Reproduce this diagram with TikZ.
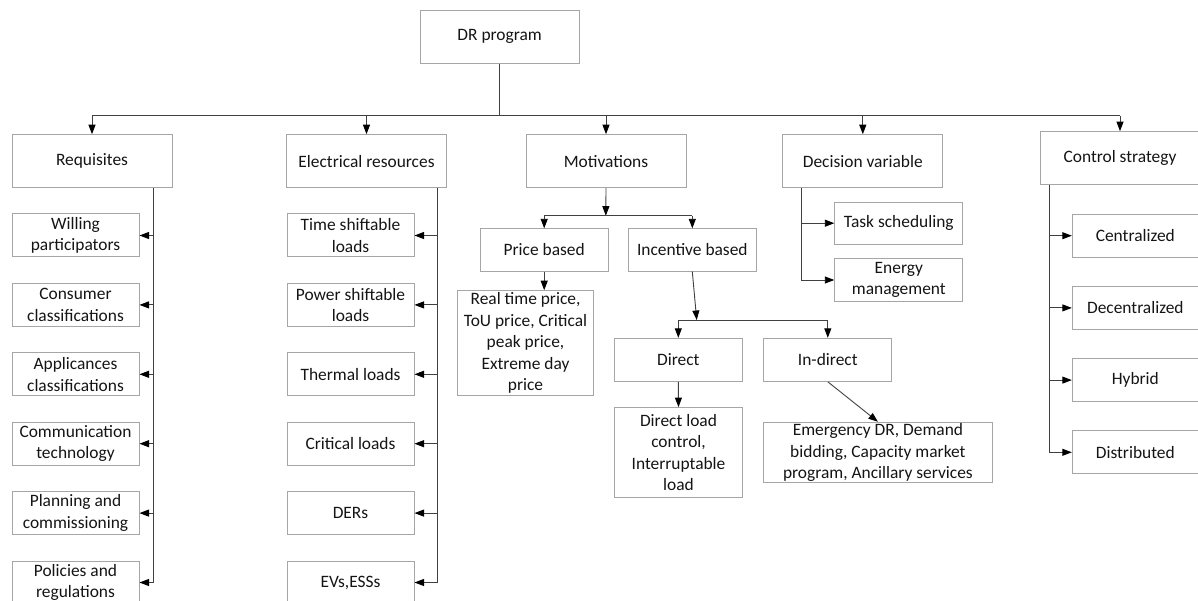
\documentclass[tikz,border=0pt]{standalone}
\usepackage{fontspec}
\setmainfont{Carlito}
\usetikzlibrary{arrows.meta}
\definecolor{edge}{HTML}{A6A6A6}
\definecolor{wire}{HTML}{404040}
\definecolor{ink}{HTML}{141414}

\begin{document}
\begin{tikzpicture}[x=1pt,y=-1pt,font=\fontsize{17.4}{21.5}\selectfont,
  box/.style={draw=edge,line width=1pt,text=ink,align=center,inner sep=0pt},
  link/.style={wire,line width=0.9pt},
  arr/.style={link,-{Triangle[length=9.5pt,width=7pt,fill=black,color=black]}}]
\clip (0,0) rectangle (1198,601);
% top level
\node[box,minimum width=159,minimum height=53] (dr) at (499.6,36.8) {DR program};
\foreach \n/\x/\t in {req/92/Requisites, elec/366.5/Electrical resources, mot/606/Motivations, dec/862.8/Decision variable}
  {\node[box,minimum width=160,minimum height=53] (\n) at (\x,161.2) {\t};}
\node[box,minimum width=160,minimum height=53.3] (ctrl) at (1120,158.3) {Control strategy};
\coordinate (bus) at (499.6,115.7);
\draw[link] (dr.south) -- (bus);
\draw[link] (bus -| req) -- (bus -| ctrl);
\foreach \n in {req,elec,mot,dec,ctrl}
  {\draw[arr] (bus -| \n) -- (\n.north);}

% requisites and electrical resources
\foreach \t [count=\i] in {{Willing\\participators},{Consumer\\classifications},{Applicances\\classifications},{Communication\\technology},{Planning and\\commissioning},{Policies and\\regulations}}
  {\node[box,minimum width=127,minimum height=43] (rq\i) at (75.5,{166.1+69.4*\i}) {\t};}
\foreach \t [count=\i] in {{Time shiftable\\loads},{Power shiftable\\loads},{Thermal loads},{Critical loads},{DERs},{EVs,ESSs}}
  {\node[box,minimum width=127,minimum height=43] (el\i) at (350.5,{166.1+69.4*\i}) {\t};}
\coordinate (rqspine) at (153.5,0);
\coordinate (elspine) at (437.5,0);
\draw[link] (req.south -| rqspine) -- (rqspine |- rq6.east);
\draw[link] (elec.south -| elspine) -- (elspine |- el6.east);
\foreach \i in {1,...,6}
  {\draw[arr] (rqspine |- rq\i.east) -- (rq\i.east);
   \draw[arr] (elspine |- el\i.east) -- (el\i.east);}

% motivations
\node[box,minimum width=128,minimum height=42.3] (pb) at (544.2,250) {Price based};
\node[box,minimum width=128,minimum height=42.3] (ib) at (692.3,250) {Incentive based};
\node[box,minimum width=136.4,minimum height=105] (rt) at (525.5,343.2)
  {Real time price,\\ToU price, Critical\\peak price,\\Extreme day\\price};
\node[box,minimum width=128.5,minimum height=43] (dir) at (678.3,359.8) {Direct};
\node[box,minimum width=128.2,minimum height=43] (ind) at (827.8,359.8) {In-direct};
\node[box,minimum width=128.5,minimum height=89.8] (dlc) at (678.5,452.5)
  {Direct load\\control,\\Interruptable\\load};
\node[box,minimum width=228.5,minimum height=60.5] (emg) at (877.9,452.5)
  {Emergency DR, Demand\\bidding, Capacity market\\program, Ancillary services};
\coordinate (motbus) at (605.8,215.7);
\coordinate (incbus) at (696.7,320);
\draw[arr] (mot.south) -- (motbus);
\draw[link] (pb.north |- motbus) -- (ib.north |- motbus);
\draw[arr] (pb.north |- motbus) -- (pb.north);
\draw[arr] (ib.north |- motbus) -- (ib.north);
\draw[arr] (pb.south) -- (pb.south |- rt.north);
\draw[arr] (ib.south) -- (incbus);
\draw[link] (dir.north |- incbus) -- (ind.north |- incbus);
\draw[arr] (dir.north |- incbus) -- (dir.north);
\draw[arr] (ind.north |- incbus) -- (ind.north);
\draw[arr] (dir.south) -- (dlc.north);
\draw[arr] (ind.south) -- (emg.north);

% decision variable
\node[box,minimum width=128,minimum height=42.3] (ts) at (898.8,223.2) {Task scheduling};
\node[box,minimum width=128,minimum height=43.3] (em) at (898.8,280) {Energy\\management};
\coordinate (dcspine) at (801,0);
\draw[link] (dec.south -| dcspine) -- (dcspine |- em.west);
\draw[arr] (dcspine |- ts.west) -- (ts.west);
\draw[arr] (dcspine |- em.west) -- (em.west);

% control strategy
\foreach \t [count=\i] in {Centralized,Decentralized,Hybrid,Distributed}
  {\node[box,minimum width=126,minimum height=42.7] (cs\i) at (1135.3,{163.5+72.2*\i}) {\t};}
\coordinate (csspine) at (1049.3,0);
\draw[link] (ctrl.south -| csspine) -- (csspine |- cs4.west);
\foreach \i in {1,...,4}
  {\draw[arr] (csspine |- cs\i.west) -- (cs\i.west);}
\end{tikzpicture}
\end{document}
